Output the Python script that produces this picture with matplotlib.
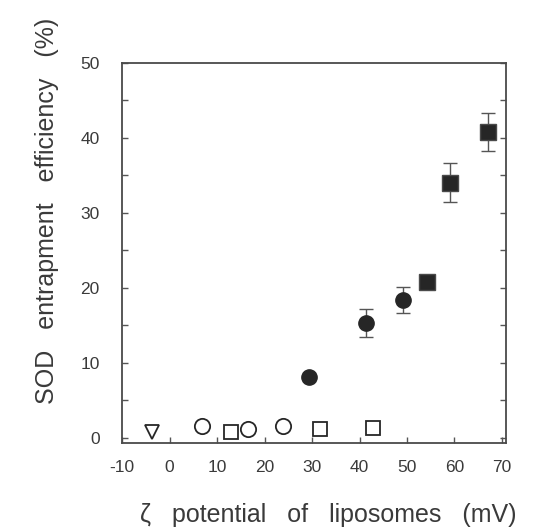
import matplotlib.pyplot as plt
from matplotlib.ticker import MultipleLocator

# open symbols (no error bars)
tri_x = [-3.8]
tri_y = [0.7]
open_circ_x = [6.9, 16.5, 23.8]
open_circ_y = [1.5, 1.2, 1.5]
open_sq_x = [13.0, 31.6, 42.8]
open_sq_y = [0.8, 1.1, 1.3]

# filled symbols
fill_circ_x = [29.4, 41.4, 49.2]
fill_circ_y = [8.1, 15.3, 18.4]
fill_circ_err = [0.0, 1.9, 1.7]
fill_sq_x = [54.3, 59.1, 67.0]
fill_sq_y = [20.8, 34.0, 40.8]
fill_sq_err = [0.0, 2.6, 2.5]

x_ticks = [-10, 0, 10, 20, 30, 40, 50, 60, 70]
y_ticks = [0, 10, 20, 30, 40, 50]

plt.rcParams.update({
    "font.family": ["Liberation Sans", "DejaVu Sans"],
    "axes.unicode_minus": False,
})
txt = "#3a3a3a"

fig = plt.figure(figsize=(5.45, 5.28), dpi=100)
ax = fig.add_axes([0.224, 0.161, 0.704, 0.72])

ms = 10.5
dark = "#262626"
ax.plot(tri_x, tri_y, "v", ms=ms, mfc="white", mec=dark, mew=1.3, ls="none")
ax.plot(open_circ_x, open_circ_y, "o", ms=ms + 0.5, mfc="white", mec=dark, mew=1.3, ls="none")
ax.plot(open_sq_x, open_sq_y, "s", ms=ms, mfc="white", mec=dark, mew=1.3, ls="none")
ax.errorbar(fill_circ_x, fill_circ_y, yerr=fill_circ_err, fmt="o", ms=ms + 0.5,
            mfc=dark, mec=dark, ecolor="#555555", elinewidth=1, capsize=5, capthick=1)
ax.errorbar(fill_sq_x, fill_sq_y, yerr=fill_sq_err, fmt="s", ms=ms + 0.5,
            mfc=dark, mec="#4a4a4a", ecolor="#555555", elinewidth=1, capsize=5, capthick=1)

ax.set_xlim(-10, 70.8)
ax.set_ylim(-0.7, 50)
ax.set_xticks(x_ticks)
ax.set_yticks(y_ticks)
ax.yaxis.set_minor_locator(MultipleLocator(5))
ax.tick_params(axis="both", which="both", direction="in", length=4, width=1,
               colors="#555555", labelcolor=txt, labelsize=12.5)
ax.tick_params(axis="y", which="both", right=True, pad=16)
ax.tick_params(axis="x", pad=12)
for s in ax.spines.values():
    s.set_color("#4a4a4a")
    s.set_linewidth(1.3)

fig.text(0.603, 0.0114, "\u03b6   potential   of   liposomes   (mV)", ha="center",
         va="baseline", fontsize=18, color=txt)
fig.text(0.086, 0.6, "SOD   entrapment   efficiency   (%)", ha="center",
         va="center", rotation=90, fontsize=18, color=txt)

fig.savefig("out.png", dpi=100)
